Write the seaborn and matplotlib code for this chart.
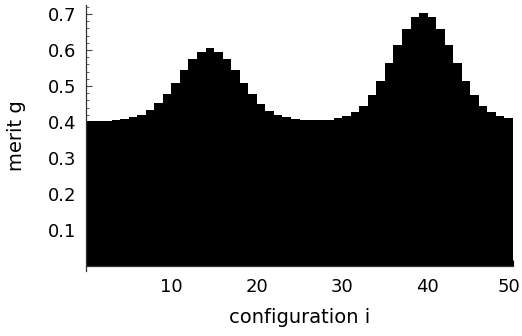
import matplotlib
matplotlib.use("Agg")
import matplotlib.pyplot as plt
import matplotlib.transforms as mtransforms
import seaborn as sns
import pandas as pd
from matplotlib.ticker import MultipleLocator

# merit g for each configuration i
configuration = list(range(1, 51))
merit = [
    0.404, 0.404, 0.404, 0.406, 0.408, 0.413, 0.419, 0.432, 0.452, 0.478,
    0.509, 0.544, 0.574, 0.595, 0.605, 0.595, 0.574, 0.544, 0.507, 0.478,
    0.451, 0.431, 0.419, 0.413, 0.408, 0.405, 0.405, 0.405, 0.406, 0.410,
    0.416, 0.427, 0.445, 0.474, 0.514, 0.563, 0.613, 0.659, 0.693, 0.704,
    0.693, 0.659, 0.613, 0.563, 0.514, 0.474, 0.445, 0.427, 0.416, 0.410,
]
x_ticks = [10, 20, 30, 40, 50]
y_ticks = [0.1, 0.2, 0.3, 0.4, 0.5, 0.6, 0.7]

df = pd.DataFrame({"configuration": configuration, "merit": merit})

sns.set_theme(style="ticks", rc={
    "text.color": "black", "axes.labelcolor": "black",
    "xtick.color": "black", "ytick.color": "black",
})
plt.rcParams["font.family"] = ["DejaVu Sans"]

W, H = 522, 336
fig = plt.figure(figsize=(W / 100, H / 100), dpi=100)
ax = fig.add_axes([86 / W, 1 - 266 / H, (513 - 86) / W, (266 - 5) / H])

sns.barplot(data=df, x="configuration", y="merit", color="black",
            width=1.0, linewidth=0, saturation=1, ax=ax)

n = len(configuration)
ax.set_xlim(-0.5, n - 0.5)
ax.set_ylim(0, 0.725)

# each tick sits at the right edge of its configuration's bar
ax.set_xticks([configuration.index(t) + 0.5 for t in x_ticks])
ax.set_xticklabels([str(t) for t in x_ticks])
ax.set_yticks(y_ticks)
ax.set_yticklabels([f"{t:.1f}" for t in y_ticks])
ax.yaxis.set_minor_locator(MultipleLocator(0.02))

ax.tick_params(axis="x", direction="in", length=4, width=0.8, pad=9,
               labelsize=13, color="black", labelcolor="black")
ax.tick_params(axis="y", which="major", direction="in", length=4, width=0.8,
               pad=7, labelsize=13, color="#444444", labelcolor="black")
ax.tick_params(axis="y", which="minor", direction="in", length=2, width=0.6,
               color="#444444")

# keep the last x label inside the figure
last = ax.get_xticklabels()[-1]
last.set_transform(last.get_transform()
                   + mtransforms.ScaledTranslation(-4 / 100, 0, fig.dpi_scale_trans))

for side in ("top", "right"):
    ax.spines[side].set_visible(False)
for side in ("left", "bottom"):
    ax.spines[side].set_color("#333333")
    ax.spines[side].set_linewidth(0.9)
ax.spines["left"].set_bounds(-0.014, 0.725)

ax.set_xlabel("configuration i", fontsize=14, labelpad=8, color="black")
ax.set_ylabel("merit g", fontsize=14, labelpad=16, color="black")

fig.savefig("out.png", dpi=100)
